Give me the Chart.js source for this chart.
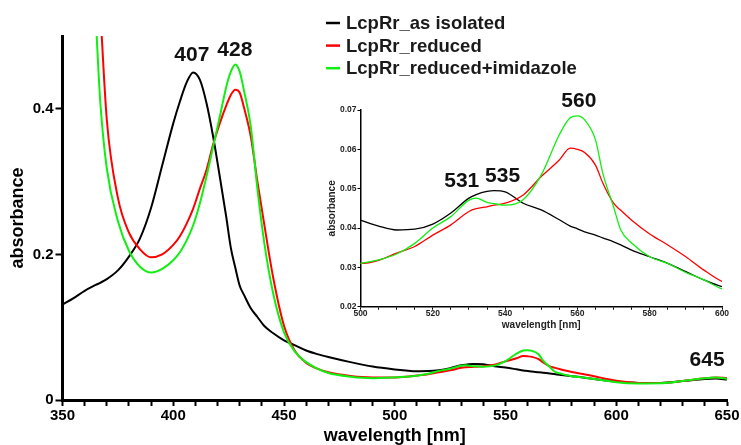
<!DOCTYPE html>
<html>
<head>
<meta charset="utf-8">
<script src="https://cdn.jsdelivr.net/npm/chart.js@4.4.1/dist/chart.umd.min.js"></script>
<style>
html,body{margin:0;padding:0;background:#fff;}
#wrap{position:relative;width:741px;height:445px;overflow:hidden;background:#fff;}
#main{position:absolute;left:0;top:0;}
#inset{position:absolute;left:320px;top:80px;}
</style>
</head>
<body>
<div id="wrap">
<canvas id="main" width="741" height="445"></canvas>
<canvas id="inset" width="410" height="260"></canvas>
</div>
<script>
// ---------- data ----------
const wavelength = [
  350,355,360,365,367,370,375,380,385,390,
  395,400,403,406,409,412,415,418,421,424,
  426,428,430,432,435,438,441,445,450,455,
  460,465,470,480,490,500,505,510,515,520,
  525,530,532,535,537,540,545,550,555,558,
  560,562,565,567,570,572,575,580,585,590,
  595,600,610,620,630,640,645,650
];
const asIsolated = [
  0.131,0.140,0.150,0.158,0.161,0.166,0.178,0.197,0.222,0.264,
  0.322,0.380,0.410,0.436,0.450,0.440,0.408,0.362,0.307,0.250,
  0.209,0.182,0.157,0.144,0.126,0.114,0.102,0.092,0.082,0.075,
  0.068,0.063,0.059,0.052,0.046,0.042,0.0405,0.0395,0.0397,0.041,
  0.0438,0.0476,0.0485,0.0493,0.0495,0.0492,0.0463,0.0446,0.0421,0.0405,
  0.0398,0.0390,0.0382,0.0375,0.0365,0.0357,0.0344,0.0327,0.0310,0.0289,
  0.0268,0.0251,0.0235,0.0235,0.0260,0.0290,0.0295,0.0280
];
const reduced = [
  1.60,1.10,0.88,0.65,0.54,0.385,0.278,0.230,0.207,0.196,
  0.200,0.213,0.225,0.242,0.263,0.290,0.316,0.351,0.380,0.405,
  0.419,0.426,0.422,0.401,0.362,0.300,0.243,0.170,0.102,0.067,
  0.051,0.043,0.038,0.033,0.031,0.031,0.0318,0.0336,0.0353,0.0382,
  0.0408,0.0442,0.0449,0.0454,0.0458,0.0463,0.0484,0.0531,0.0573,0.0603,
  0.0600,0.0592,0.0560,0.0515,0.0463,0.0445,0.0420,0.0385,0.0357,0.0327,
  0.0293,0.0264,0.0235,0.0232,0.0260,0.0300,0.0310,0.0300
];
const reducedImidazole = [
  1.70,1.20,0.80,0.525,0.412,0.318,0.246,0.205,0.183,0.175,
  0.180,0.192,0.203,0.219,0.240,0.270,0.307,0.348,0.389,0.431,
  0.451,0.461,0.451,0.424,0.376,0.290,0.218,0.148,0.093,0.066,
  0.052,0.043,0.037,0.032,0.030,0.031,0.0319,0.0334,0.0361,0.0400,
  0.0429,0.0471,0.0476,0.0465,0.0462,0.0458,0.0472,0.0535,0.0637,0.0680,
  0.0685,0.0675,0.0624,0.0540,0.0454,0.0395,0.0362,0.0327,0.0310,0.0287,
  0.0268,0.0245,0.0228,0.0230,0.0260,0.0300,0.0310,0.0290
];
const seriesNames = ['LcpRr_as isolated','LcpRr_reduced','LcpRr_reduced+imidazole'];
const seriesColors = ['#000000','#ff0000','#11ee11'];

const mainYTicks = [0, 0.2, 0.4];
const mainXLabels = [350, 400, 450, 500, 550, 600, 650];
const insetYTicks = [0.02, 0.03, 0.04, 0.05, 0.06, 0.07];
const insetXLabels = [500, 520, 540, 560, 580, 600];

const mainPeakLabels = ['407', '428', '645'];
const mainPeakX = [408.4, 427.8, 641];
const mainPeakY = [0.474, 0.481, 0.055];
const insetPeakLabels = ['531', '535', '560'];
const insetPeakX = [528, 539.3, 560.4];
const insetPeakY = [0.0518, 0.0531, 0.0723];

// ---------- setup ----------
const FONT = "'Liberation Sans', Arial, Helvetica, sans-serif";
Chart.defaults.font.family = FONT;
Chart.defaults.color = '#000';

function pts(ys) { return wavelength.map((x, i) => ({ x: x, y: ys[i] })); }
function makeDatasets(lw) {
  const series = [asIsolated, reduced, reducedImidazole];
  const orders = [2, 1, 0];
  return series.map((s, i) => ({
    label: seriesNames[i],
    data: pts(s),
    borderColor: seriesColors[i],
    backgroundColor: seriesColors[i],
    borderWidth: lw,
    pointRadius: 0,
    fill: false,
    cubicInterpolationMode: 'monotone',
    order: orders[i]
  }));
}

function peakPlugin(labels, xs, ys, size) {
  return {
    id: 'peaks',
    afterDatasetsDraw(chart) {
      const ctx = chart.ctx;
      const sx = chart.scales.x, sy = chart.scales.y;
      ctx.save();
      ctx.font = 'bold ' + size + 'px ' + FONT;
      ctx.fillStyle = '#111';
      ctx.textAlign = 'center';
      ctx.textBaseline = 'middle';
      labels.forEach((t, i) => {
        ctx.fillText(t, sx.getPixelForValue(xs[i]), sy.getPixelForValue(ys[i]));
      });
      ctx.restore();
    }
  };
}

const legendPlugin = {
  id: 'cornerLegend',
  afterDraw(chart) {
    const ctx = chart.ctx;
    ctx.save();
    ctx.font = 'bold 18.5px ' + FONT;
    ctx.textBaseline = 'middle';
    ctx.textAlign = 'left';
    seriesNames.forEach((name, i) => {
      const y = 23 + i * 22.6;
      ctx.strokeStyle = seriesColors[i];
      ctx.lineWidth = 2.5;
      ctx.beginPath();
      ctx.moveTo(326, y);
      ctx.lineTo(340, y);
      ctx.stroke();
      ctx.fillStyle = '#1a1a1a';
      ctx.fillText(name, 346, y + 1);
    });
    ctx.restore();
  }
};

// ---------- main chart ----------
new Chart(document.getElementById('main'), {
  type: 'line',
  data: { datasets: makeDatasets(2) },
  options: {
    responsive: false,
    animation: false,
    events: [],
    layout: { padding: { top: 36, right: 14, left: 0, bottom: 0 } },
    plugins: { legend: { display: false }, tooltip: { enabled: false } },
    scales: {
      x: {
        type: 'linear', min: 350, max: 650,
        afterFit: s => { s.height = 45; },
        afterBuildTicks: s => { const t = []; for (let v = 350; v <= 650; v += 10) t.push({ value: v }); s.ticks = t; },
        ticks: {
          autoSkip: false, maxRotation: 0, padding: 1,
          font: { size: 15, weight: 'bold' }, color: '#000',
          callback: v => mainXLabels.includes(v) ? String(v) : ''
        },
        grid: { drawOnChartArea: false, drawTicks: true, tickLength: 6, tickWidth: 2, tickColor: '#000' },
        border: { display: true, width: 3, color: '#000' },
        title: { display: true, text: 'wavelength [nm]', color: '#000',
                 font: { size: 18, weight: 'bold', lineHeight: 1 }, padding: { top: 0, bottom: 0 } }
      },
      y: {
        type: 'linear', min: 0, max: 0.5,
        afterFit: s => { s.width = 62.5; },
        afterBuildTicks: s => { s.ticks = mainYTicks.map(v => ({ value: v })); },
        ticks: {
          padding: 2, font: { size: 15, weight: 'bold' }, color: '#000',
          callback: v => v === 0 ? '0' : Number(v).toFixed(1)
        },
        grid: { drawOnChartArea: false, drawTicks: true, tickLength: 7, tickWidth: 2, tickColor: '#000' },
        border: { display: true, width: 3, color: '#000' },
        title: { display: true, text: 'absorbance', color: '#000',
                 font: { size: 18, weight: 'bold', lineHeight: 1 }, padding: { top: 9, bottom: 0 } }
      }
    }
  },
  plugins: [peakPlugin(mainPeakLabels, mainPeakX, mainPeakY, 21), legendPlugin]
});

// ---------- inset chart ----------
new Chart(document.getElementById('inset'), {
  type: 'line',
  data: { datasets: makeDatasets(1.3) },
  options: {
    responsive: false,
    animation: false,
    events: [],
    layout: { padding: { top: 30, right: 8, left: 0, bottom: 0 } },
    plugins: { legend: { display: false }, tooltip: { enabled: false } },
    scales: {
      x: {
        type: 'linear', min: 500, max: 600,
        afterFit: s => { s.height = 33.3; },
        afterBuildTicks: s => { const t = []; for (let v = 500; v <= 600; v += 5) t.push({ value: v }); s.ticks = t; },
        ticks: {
          autoSkip: false, maxRotation: 0, padding: 0,
          font: { size: 8.5, weight: 'bold', lineHeight: 1 }, color: '#222',
          callback: v => insetXLabels.includes(v) ? String(v) : ''
        },
        grid: { drawOnChartArea: false, drawTicks: true, tickLength: 3, tickWidth: 1, tickColor: '#000' },
        border: { display: true, width: 1.5, color: '#000' },
        title: { display: true, text: 'wavelength [nm]', color: '#222',
                 font: { size: 10, weight: 'bold', lineHeight: 1 }, padding: { top: 0, bottom: 10 } }
      },
      y: {
        type: 'linear', min: 0.02, max: 0.07,
        afterFit: s => { s.width = 40.5; },
        afterBuildTicks: s => { s.ticks = insetYTicks.map(v => ({ value: v })); },
        ticks: {
          padding: 1, font: { size: 8.5, weight: 'bold' }, color: '#222',
          callback: v => Number(v).toFixed(2)
        },
        grid: { drawOnChartArea: false, drawTicks: true, tickLength: 3, tickWidth: 1, tickColor: '#000' },
        border: { display: true, width: 1.5, color: '#000' },
        title: { display: true, text: 'absorbance', color: '#222',
                 font: { size: 10, weight: 'bold', lineHeight: 1 }, padding: { top: 7.7, bottom: 0 } }
      }
    }
  },
  plugins: [peakPlugin(insetPeakLabels, insetPeakX, insetPeakY, 21)]
});
</script>
</body>
</html>
